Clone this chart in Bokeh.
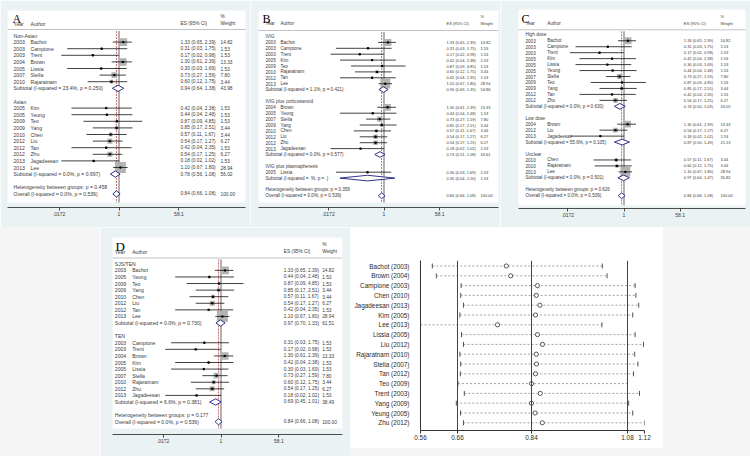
import math
from bokeh.plotting import figure
from bokeh.layouts import row, column
from bokeh.models import Range1d, FixedTicker, BoxAnnotation, Span, Label, Div
from bokeh.embed import file_html
from bokeh.resources import INLINE
from bokeh.core.properties import value

# ---------------- data ----------------
STUDY = ["Bachot", "Campione", "Trent", "Brown", "Kim", "Lissia", "Yeung", "Stella", "Teo",
         "Yang", "Chen", "Rajaratnam", "Liu", "Tan", "Zhu", "Jagadeesan", "Lee"]
YEAR = [2003, 2003, 2003, 2004, 2005, 2005, 2005, 2007, 2009, 2009, 2010, 2010, 2012, 2012, 2012, 2013, 2013]
ES = [1.33, 0.31, 0.17, 1.30, 0.42, 0.30, 0.44, 0.73, 0.87, 0.85, 0.57, 0.60, 0.54, 0.42, 0.54, 0.18, 1.10]
LO = [0.65, 0.03, 0.02, 0.61, 0.04, 0.03, 0.04, 0.27, 0.09, 0.17, 0.11, 0.12, 0.17, 0.04, 0.17, 0.02, 0.67]
HI = [2.39, 1.75, 0.98, 2.39, 2.38, 1.69, 2.48, 1.59, 4.85, 2.51, 1.67, 1.75, 1.27, 2.35, 1.25, 1.02, 1.80]
WT = [14.82, 1.53, 1.53, 13.33, 1.53, 1.53, 1.53, 7.80, 1.53, 3.44, 3.44, 3.44, 6.27, 1.53, 6.27, 1.53, 28.94]

OV_ES, OV_LO, OV_HI, OV_I2, OV_P = 0.84, 0.66, 1.08, "0.0", "0.539"
AXIS_TICKS = [0.0172, 1, 58.1]
AXIS_LABELS = [".0172", "1", "58.1"]

A_GROUPS = ["Non-Asian", "Asian"]
A_MEMBERS = [["Bachot", "Campione", "Trent", "Brown", "Lissia", "Stella", "Rajaratnam"],
             ["Kim", "Yeung", "Teo", "Yang", "Chen", "Liu", "Tan", "Zhu", "Jagadeesan", "Lee"]]
A_I2 = ["23.4", "0.0"]; A_P = ["0.250", "0.697"]
A_SES = [0.94, 0.78]; A_SLO = [0.64, 0.56]; A_SHI = [1.38, 1.08]; A_SWT = [43.98, 56.02]
A_HET = "0.458"

B_GROUPS = ["IVIG", "IVIG plus corticosteroid", "IVIG plus plasmapheresis"]
B_MEMBERS = [["Bachot", "Campione", "Trent", "Kim", "Teo", "Rajaratnam", "Tan", "Lee"],
             ["Brown", "Yeung", "Stella", "Yang", "Chen", "Liu", "Zhu", "Jagadeesan"],
             ["Lissia"]]
B_I2 = ["1.1", "0.0", "."]; B_P = ["0.421", "0.577", "."]
B_SES = [0.96, 0.74, 0.30]; B_SLO = [0.69, 0.51, 0.04]; B_SHI = [1.35, 1.08, 2.20]; B_SWT = [54.86, 43.61, 1.53]
B_HET = "0.359"

C_GROUPS = ["High dose", "Low dose", "Unclear"]
C_MEMBERS = [["Bachot", "Campione", "Trent", "Kim", "Lissia", "Yeung", "Stella", "Teo", "Yang", "Tan", "Zhu"],
             ["Brown", "Liu", "Jagadeesan"],
             ["Chen", "Rajaratnam", "Lee"]]
C_I2 = ["0.0", "55.6", "0.0"]; C_P = ["0.630", "0.105", "0.501"]
C_SES = [0.74, 0.87, 0.97]; C_SLO = [0.50, 0.50, 0.64]; C_SHI = [1.09, 1.49, 1.47]; C_SWT = [43.05, 21.13, 35.82]
C_HET = "0.626"

D_GROUPS = ["SJS/TEN", "TEN"]
D_MEMBERS = [["Bachot", "Yeung", "Teo", "Yang", "Chen", "Liu", "Tan", "Lee"],
             ["Campione", "Trent", "Brown", "Kim", "Lissia", "Stella", "Rajaratnam", "Zhu", "Jagadeesan"]]
D_I2 = ["0.0", "6.6"]; D_P = ["0.730", "0.381"]
D_SES = [0.97, 0.69]; D_SLO = [0.70, 0.45]; D_SHI = [1.33, 1.01]; D_SWT = [61.51, 38.49]
D_HET = "0.177"

E_STUDY = ["Bachot (2003)", "Brown (2004)", "Campione (2003)", "Chen (2010)", "Jagadeesan (2013)",
           "Kim (2005)", "Lee (2013)", "Lissia (2005)", "Liu (2012)", "Rajaratnam (2010)", "Stella (2007)",
           "Tan (2012)", "Teo (2009)", "Trent (2003)", "Yang (2009)", "Yeung (2005)", "Zhu (2012)"]
E_LO = [0.592, 0.602, 0.664, 0.663, 0.670, 0.661, 0.5625, 0.665, 0.670, 0.661, 0.663, 0.662, 0.656, 0.672, 0.652, 0.6625, 0.670]
E_EST = [0.777, 0.788, 0.855, 0.852, 0.861, 0.850, 0.755, 0.855, 0.8675, 0.852, 0.8525, 0.850, 0.840, 0.862, 0.840, 0.849, 0.867]
E_HI = [1.017, 1.029, 1.099, 1.101, 1.108, 1.093, 1.016, 1.099, 1.120, 1.098, 1.106, 1.095, 1.080, 1.110, 1.083, 1.093, 1.1225]
E_REF = [0.655, 0.84, 1.08]
E_TICKS = [0.5625, 0.655, 0.84, 1.08, 1.1225]
E_TICK_LABELS = ["0.56", "0.66", "0.84", "1.08", "1.12"]
E_TITLE = "Meta-analysis estimates, given named study is omitted"
E_LEGEND = ["| Lower CI Limit", "o Estimate", "| Upper CI Limit"]

# ---------------- style ----------------
BLUISH = "#eaf2f3"
PAGE_GRAY = "#f5f5f5"
TXT = "#3a3a3a"
SANS = "Liberation Sans"
SERIF = "Liberation Serif"
BOX = "#b3b3b3"
NAVY = "#1c1c7c"
RED = "#b03030"

IDX = {n: i for i, n in enumerate(STUDY)}


def make_forest(g, letter, groups, members, s_i2, s_p, s_es, s_lo, s_hi, s_wt, het_p):
    ox, oy, w, h = g["box"]
    fl, fr, ft, fb, wb = g["frame"]
    x1, dec = g["x1"], g["dec"]
    row0, pitch = g["row0"], g["pitch"]
    cy, ca, ce, cw = g["cols"]
    fs, fsr = g["fs"]

    def X(px):
        return 10 ** ((px - x1) / dec)

    def Y(py):
        return (py - row0) / pitch

    p = figure(width=w, height=h, x_axis_type="log",
               x_range=Range1d(X(fl), X(fr)), y_range=Range1d(Y(fb), Y(ft)),
               y_axis_location=None, output_backend="svg", toolbar_location=None,
               min_border_left=fl - ox, min_border_right=ox + w - fr,
               min_border_top=ft - oy, min_border_bottom=oy + h - fb,
               background_fill_color=BLUISH, border_fill_color=BLUISH, outline_line_color=None)
    p.frame_align = False
    p.grid.visible = False
    p.add_layout(BoxAnnotation(left=X(fl), right=X(fr), top=Y(ft), bottom=Y(wb),
                               fill_color="white", fill_alpha=1.0, line_color=None, level="underlay"))
    p.add_layout(Span(location=Y(g["sep"]), dimension="width", line_color="#9a9a9a", line_width=0.6))

    L = {"x": [], "y": [], "t": []}
    R = {"x": [], "y": [], "t": []}

    def add(px, r, t, d=L):
        d["x"].append(X(px)); d["y"].append(r); d["t"].append(t)

    s_r, s_es_, s_lo_, s_hi_, s_sz = [], [], [], [], []
    dxs, dys = [], []
    k = pitch * 0.31
    hd = 0.48
    r = 0
    for gi, gname in enumerate(groups):
        add(cy, r, gname)
        r += 1
        for name in members[gi]:
            i = IDX[name]
            add(cy, r, str(YEAR[i]))
            add(ca, r, name)
            add(ce, r, f"{ES[i]:.2f} ({LO[i]:.2f}, {HI[i]:.2f})", R)
            add(cw, r, f"{WT[i]:.2f}", R)
            s_r.append(r); s_es_.append(ES[i]); s_lo_.append(LO[i]); s_hi_.append(HI[i])
            s_sz.append(k * math.sqrt(WT[i]))
            r += 1
        add(cy, r, f"Subtotal  (I-squared = {s_i2[gi]}%, p = {s_p[gi]})")
        add(ce, r, f"{s_es[gi]:.2f} ({s_lo[gi]:.2f}, {s_hi[gi]:.2f})", R)
        add(cw, r, f"{s_wt[gi]:.2f}", R)
        dxs.append([s_lo[gi], s_es[gi], s_hi[gi], s_es[gi]])
        dys.append([r, r - hd, r, r + hd])
        r += 2
    add(cy, r, f"Heterogeneity between groups: p = {het_p}")
    r += 1
    add(cy, r, f"Overall  (I-squared = {OV_I2}%, p = {OV_P})")
    add(ce, r, f"{OV_ES:.2f} ({OV_LO:.2f}, {OV_HI:.2f})", R)
    add(cw, r, "100.00", R)
    dxs.append([OV_LO, OV_ES, OV_HI, OV_ES])
    dys.append([r, r - hd, r, r + hd])

    # header
    hy = Y(g["hdr"])
    add(cy, hy, "Year"); add(ca, hy, "Author")
    add(ce, hy, "ES (95% CI)", R); add(cw, hy, "Weight", R)
    add(cw, Y(g["pct"]), "%", R)

    ytop = Y(g["sep"] + 1.5)
    p.segment(x0=[1], x1=[1], y0=[ytop], y1=[Y(wb)], line_color="#222222", line_width=0.7)
    p.segment(x0=[OV_ES], x1=[OV_ES], y0=[ytop], y1=[Y(wb)], line_color=RED, line_width=0.7, line_dash="2 1")

    p.scatter(x=s_es_, y=s_r, marker="square", size=s_sz, fill_color=BOX, line_color=None)
    p.segment(x0=s_lo_, x1=s_hi_, y0=s_r, y1=s_r, line_color="#111111", line_width=0.8)
    p.scatter(x=s_es_, y=s_r, marker="circle", size=2.4, fill_color="black", line_color=None)
    p.patches(xs=dxs, ys=dys, fill_color="white", line_color=NAVY, line_width=0.9)

    for d, f in ((L, fs), (R, fsr)):
        p.text(x=d["x"], y=d["y"], text=d["t"], text_font=value(SANS), text_font_size=value(f"{f}px"),
               text_color=TXT, text_align="left", text_baseline="middle")
    lx, lb, lfs = g["letter"]
    p.text(x=[X(lx)], y=[Y(lb)], text=[letter], text_font=value(SERIF), text_font_size=value(f"{lfs}px"),
           text_color="black", text_align="left", text_baseline="alphabetic")

    ax = p.xaxis[0]
    ax.ticker = FixedTicker(ticks=AXIS_TICKS)
    ax.major_label_overrides = {t: l for t, l in zip(AXIS_TICKS, AXIS_LABELS)}
    ax.axis_line_color = "#222222"
    ax.axis_line_width = 0.8
    ax.major_tick_line_color = "#222222"
    ax.major_tick_line_width = 0.8
    ax.major_tick_out = 3
    ax.major_tick_in = 0
    ax.minor_tick_line_color = None
    ax.major_label_standoff = 1
    ax.major_label_text_font = SANS
    ax.major_label_text_font_size = "5px"
    ax.major_label_text_color = TXT
    return p


GA = dict(box=(0, 0, 250, 227), frame=(7, 245, 10, 207, 202), x1=118.5, dec=34.0, row0=35.0, pitch=6.6,
          cols=(13, 30, 180, 220), fs=(5.1, 4.8), hdr=23.3, pct=16.3, sep=29, letter=(12, 18.5, 12))
GB = dict(box=(250, 0, 250, 227), frame=(258, 498, 10, 207, 202), x1=383.5, dec=31.5, row0=36.0, pitch=5.9,
          cols=(265, 280, 446, 480), fs=(4.6, 4.0), hdr=23.3, pct=16.3, sep=30, letter=(262, 18.5, 12))
GC = dict(box=(500, 0, 250, 227), frame=(518, 745, 9, 208, 205), x1=623.5, dec=31.8, row0=34.3, pitch=5.96,
          cols=(525, 546.7, 683.3, 720), fs=(4.6, 4.0), hdr=23.3, pct=16.0, sep=29.3, letter=(521, 18, 12))
GD = dict(box=(100, 227, 250, 229), frame=(112, 342, 237, 434, 428), x1=220.5, dec=32.8, row0=263.3, pitch=6.58,
          cols=(114.3, 131.7, 283.3, 321.7), fs=(5.1, 4.8), hdr=251, pct=244, sep=257.5, letter=(115, 246, 13))

pa = make_forest(GA, "A", A_GROUPS, A_MEMBERS, A_I2, A_P, A_SES, A_SLO, A_SHI, A_SWT, A_HET)
pb = make_forest(GB, "B", B_GROUPS, B_MEMBERS, B_I2, B_P, B_SES, B_SLO, B_SHI, B_SWT, B_HET)
pc = make_forest(GC, "C", C_GROUPS, C_MEMBERS, C_I2, C_P, C_SES, C_SLO, C_SHI, C_SWT, C_HET)
pd = make_forest(GD, "D", D_GROUPS, D_MEMBERS, D_I2, D_P, D_SES, D_SLO, D_SHI, D_SWT, D_HET)

# ---------------- panel E ----------------
E_OX, E_OY, E_W, E_H = 350, 227, 313, 221
E_FL, E_FR, E_FT, E_FB = 420, 644, 260, 430
E_ROW0, E_PITCH = 265.5, 9.8
xlo, xhi = min(E_LO), max(E_HI)


def EX(px):
    return xlo + (px - E_FL) * (xhi - xlo) / (E_FR - E_FL)


def EY(py):
    return (py - E_ROW0) / E_PITCH


pe = figure(width=E_W, height=E_H, x_range=Range1d(xlo, xhi), y_range=Range1d(EY(E_FB), EY(E_FT)),
            output_backend="svg", toolbar_location=None,
            min_border_left=E_FL - E_OX, min_border_right=E_OX + E_W - E_FR,
            min_border_top=E_FT - E_OY, min_border_bottom=E_OY + E_H - E_FB,
            background_fill_color="white", border_fill_color="white", outline_line_color=None)
pe.frame_align = False
pe.grid.visible = False
rows_e = list(range(len(E_STUDY)))
for v in E_REF:
    pe.add_layout(Span(location=v, dimension="height", line_color="#444444", line_width=1))
pe.segment(x0=E_LO, x1=E_HI, y0=rows_e, y1=rows_e, line_color="#8a8a8a", line_width=0.8, line_dash="2 2")
pe.scatter(x=E_LO, y=rows_e, marker="dash", angle=math.pi / 2, size=5, line_color="#555555", line_width=1)
pe.scatter(x=E_HI, y=rows_e, marker="dash", angle=math.pi / 2, size=5, line_color="#555555", line_width=1)
pe.scatter(x=E_EST, y=rows_e, marker="circle", size=4.2, fill_color="white", line_color="#555555", line_width=1)

xa = pe.xaxis[0]
xa.ticker = FixedTicker(ticks=E_TICKS)
xa.major_label_overrides = {t: l for t, l in zip(E_TICKS, E_TICK_LABELS)}
ya = pe.yaxis[0]
ya.ticker = FixedTicker(ticks=rows_e)
ya.major_label_overrides = {i: s for i, s in zip(rows_e, E_STUDY)}
for a in (xa, ya):
    a.axis_line_color = "#333333"
    a.axis_line_width = 1
    a.minor_tick_line_color = None
    a.major_label_text_font = SANS
    a.major_label_text_font_size = "6.4px"
    a.major_label_text_color = "#2a2a2a"
xa.major_tick_line_color = "#333333"
xa.major_tick_out = 3
xa.major_tick_in = 0
xa.major_label_standoff = 1
ya.major_tick_line_color = None
ya.major_label_standoff = 5

pe.add_layout(Label(x=EX(420), y=EY(245), text=E_TITLE, text_font=SANS, text_font_size="6.6px",
                    text_color="#222222", text_align="left", text_baseline="middle"))
for lx, lt in zip([420, 488, 570], E_LEGEND):
    pe.add_layout(Label(x=EX(lx), y=EY(253.5), text=lt, text_font=SANS, text_font_size="6.6px",
                        text_color="#222222", text_align="left", text_baseline="middle"))
pe.add_layout(Label(x=EX(375), y=EY(246.5), text="E", text_font=SERIF, text_font_size="13px",
                    text_color="black", text_align="left", text_baseline="alphabetic"))

sp1 = Div(width=100, height=229, margin=0, styles={"background-color": PAGE_GRAY})
sp2 = Div(width=87, height=229, margin=0, styles={"background-color": PAGE_GRAY})
sp3 = Div(width=313, height=8, margin=0, styles={"background-color": PAGE_GRAY})

layout = column(row(pa, pb, pc), row(sp1, pd, column(pe, sp3), sp2))
open("out.html", "w").write(file_html(layout, INLINE))
